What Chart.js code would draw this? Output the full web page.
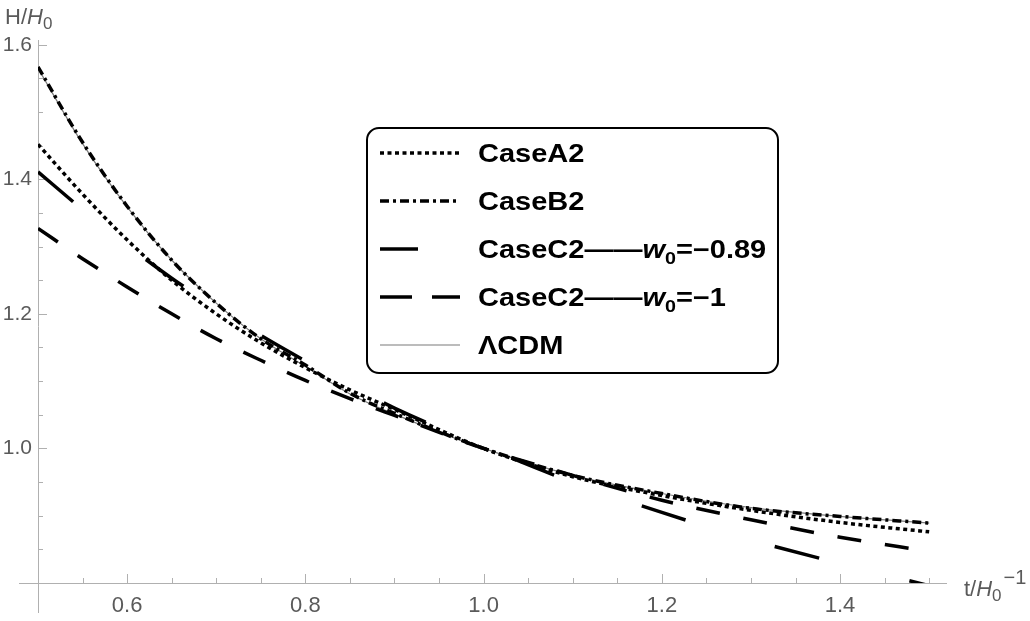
<!DOCTYPE html>
<html>
<head>
<meta charset="utf-8">
<script src="https://cdn.jsdelivr.net/npm/chart.js@4/dist/chart.umd.min.js"></script>
<style>
  body { margin: 0; background: #fff; }
  canvas { display: block; }
</style>
</head>
<body>
<canvas id="hubble-chart" width="1030" height="621"></canvas>
<script>
// t / H0^-1 sample points
const tValues = [0.5, 0.55, 0.6, 0.65, 0.7, 0.75, 0.8, 0.85, 0.9, 1.0, 1.1, 1.2, 1.3, 1.4, 1.5];

// H / H0
const caseA2  = [1.452, 1.378, 1.310, 1.250, 1.200, 1.157, 1.120, 1.087, 1.058, 1.000, 0.958, 0.930, 0.908, 0.890, 0.876];
const caseB2  = [1.567, 1.455, 1.360, 1.280, 1.216, 1.163, 1.124, 1.082, 1.052, 1.000, 0.960, 0.933, 0.911, 0.899, 0.889];
const caseC2a = [1.411, 1.355, 1.302, 1.253, 1.209, 1.168, 1.130, 1.094, 1.060, 1.003, 0.950, 0.905, 0.864, 0.829, 0.796];
const caseC2b = [1.327, 1.282, 1.240, 1.200, 1.163, 1.131, 1.101, 1.074, 1.049, 1.000, 0.960, 0.923, 0.894, 0.868, 0.847];
const lcdm    = [1.565, 1.453, 1.359, 1.280, 1.216, 1.163, 1.122, 1.081, 1.051, 1.000, 0.960, 0.933, 0.912, 0.899, 0.889];

// ticks
const xTicks = [0.5, 0.55, 0.6, 0.65, 0.7, 0.75, 0.8, 0.85, 0.9, 0.95, 1.0, 1.05, 1.1, 1.15, 1.2, 1.25, 1.3, 1.35, 1.4, 1.45, 1.5];
const xLabels = [0.6, 0.8, 1.0, 1.2, 1.4];
const yTicks = [0.8, 0.85, 0.9, 0.95, 1.0, 1.05, 1.1, 1.15, 1.2, 1.25, 1.3, 1.35, 1.4, 1.45, 1.5, 1.55, 1.6];
const yLabels = [1.0, 1.2, 1.4, 1.6];

const FONT = "'Liberation Sans', Arial, sans-serif";
const AXIS_GRAY = '#b0b0b0';
const LABEL_GRAY = '#5a5a5a';

function toPoints(ys) {
    return tValues.map((t, i) => ({ x: t, y: ys[i] }));
}

function isLabel(list, v) {
    return list.some(l => Math.abs(l - v) < 1e-6);
}

// legend text pieces: [text, style] where style is 'b', 'bi' or 'sub'
const legendEntries = [
    [['CaseA2', 'b']],
    [['CaseB2', 'b']],
    [['CaseC2\u2014\u2014', 'b'], ['w', 'bi'], ['0', 'sub'], ['=\u22120.89', 'b']],
    [['CaseC2\u2014\u2014', 'b'], ['w', 'bi'], ['0', 'sub'], ['=\u22121', 'b']],
    [['\u039BCDM', 'b']]
];

const axesPlugin = {
    id: 'axesPlugin',
    beforeDatasetsDraw(chart) {
        const ctx = chart.ctx;
        const x = chart.scales.x, y = chart.scales.y;
        const area = chart.chartArea;
        ctx.save();
        ctx.strokeStyle = AXIS_GRAY;
        ctx.lineWidth = 1;
        // axis lines, a little past the origin like the original
        ctx.beginPath();
        ctx.moveTo(area.left - 19, area.bottom + 0.5);
        ctx.lineTo(area.right, area.bottom + 0.5);
        ctx.moveTo(area.left + 0.5, area.top);
        ctx.lineTo(area.left + 0.5, area.bottom + 30);
        ctx.stroke();
        // inward ticks
        ctx.beginPath();
        xTicks.forEach(v => {
            const px = Math.round(x.getPixelForValue(v)) + 0.5;
            const len = isLabel(xLabels, v) ? 9 : 5;
            ctx.moveTo(px, area.bottom);
            ctx.lineTo(px, area.bottom - len);
        });
        yTicks.forEach(v => {
            const py = Math.round(y.getPixelForValue(v)) + 0.5;
            const len = isLabel(yLabels, v) ? 9 : 5;
            ctx.moveTo(area.left, py);
            ctx.lineTo(area.left + len, py);
        });
        ctx.stroke();
        ctx.restore();
    },
    afterDraw(chart) {
        const ctx = chart.ctx;
        const area = chart.chartArea;
        ctx.save();
        ctx.fillStyle = LABEL_GRAY;
        ctx.textBaseline = 'alphabetic';

        // y axis title: H/H0
        ctx.font = `22px ${FONT}`;
        ctx.fillText('H/', 5, 24);
        let w = ctx.measureText('H/').width;
        ctx.font = `italic 22px ${FONT}`;
        ctx.fillText('H', 5 + w, 24);
        w += ctx.measureText('H').width;
        ctx.font = `17px ${FONT}`;
        ctx.fillText('0', 5 + w, 29);

        // x axis title: t/H0^-1
        const tx = area.right + 17, ty = area.bottom + 13;
        ctx.font = `22px ${FONT}`;
        ctx.fillText('t/', tx, ty);
        w = ctx.measureText('t/').width;
        ctx.font = `italic 22px ${FONT}`;
        ctx.fillText('H', tx + w, ty);
        w += ctx.measureText('H').width;
        ctx.font = `17px ${FONT}`;
        ctx.fillText('0', tx + w, ty + 5);
        w += ctx.measureText('0').width + 2;
        ctx.font = `20px ${FONT}`;
        ctx.fillText('\u22121', tx + w, ty - 12);

        // legend box
        const bx = 367, by = 128, bw = 411, bh = 245;
        ctx.fillStyle = '#fff';
        ctx.strokeStyle = '#000';
        ctx.lineWidth = 2;
        ctx.beginPath();
        ctx.roundRect(bx, by, bw, bh, 12);
        ctx.fill();
        ctx.stroke();

        chart.data.datasets.forEach((ds, i) => {
            const rowY = by + 25 + i * 48;
            ctx.save();
            ctx.strokeStyle = ds.borderColor;
            ctx.lineWidth = ds.borderWidth;
            ctx.setLineDash(ds.legendDash || ds.borderDash || []);
            ctx.beginPath();
            ctx.moveTo(bx + 13, rowY);
            ctx.lineTo(bx + 93, rowY);
            ctx.stroke();
            ctx.restore();

            ctx.save();
            ctx.translate(bx + 111, rowY + 9);
            ctx.scale(1.16, 1);
            ctx.fillStyle = '#000';
            let cx = 0;
            legendEntries[i].forEach(([text, style]) => {
                if (style === 'sub') {
                    ctx.font = `bold 17px ${FONT}`;
                    ctx.fillText(text, cx, 6);
                } else {
                    ctx.font = (style === 'bi' ? 'italic bold ' : 'bold ') + `25px ${FONT}`;
                    ctx.fillText(text, cx, 0);
                }
                cx += ctx.measureText(text).width;
            });
            ctx.restore();
        });
        ctx.restore();
    }
};

const baseLine = {
    fill: false,
    pointRadius: 0,
    cubicInterpolationMode: 'monotone',
    borderCapStyle: 'butt'
};

new Chart(document.getElementById('hubble-chart'), {
    type: 'line',
    data: {
        datasets: [
            { ...baseLine, label: 'CaseA2', data: toPoints(caseA2), borderColor: '#000', borderWidth: 3.5, borderDash: [4, 3.5] },
            { ...baseLine, label: 'CaseB2', data: toPoints(caseB2), borderColor: '#000', borderWidth: 3.5, borderDash: [9, 4, 3, 4] },
            { ...baseLine, label: 'CaseC2 w0=-0.89', data: toPoints(caseC2a), borderColor: '#000', borderWidth: 3.5, borderDash: [46, 93], legendDash: [38, 60] },
            { ...baseLine, label: 'CaseC2 w0=-1', data: toPoints(caseC2b), borderColor: '#000', borderWidth: 3.5, borderDash: [24, 24], legendDash: [32, 20] },
            { ...baseLine, label: 'LCDM', data: toPoints(lcdm), borderColor: '#7a7a7a', borderWidth: 1.2 }
        ]
    },
    options: {
        responsive: false,
        animation: false,
        devicePixelRatio: 1,
        layout: { padding: { top: 40, right: 83, left: 0, bottom: 0 } },
        plugins: {
            legend: { display: false },
            tooltip: { enabled: false }
        },
        scales: {
            x: {
                type: 'linear',
                min: 0.5,
                max: 1.52,
                afterFit(scale) { scale.height = 38; },
                afterBuildTicks(scale) { scale.ticks = xLabels.map(v => ({ value: v })); },
                grid: { display: false, drawTicks: false },
                border: { display: false },
                ticks: {
                    padding: 10,
                    color: LABEL_GRAY,
                    font: { family: FONT, size: 22 },
                    maxRotation: 0,
                    callback: v => v.toFixed(1)
                }
            },
            y: {
                type: 'linear',
                min: 0.8,
                max: 1.607,
                afterFit(scale) { scale.width = 38; },
                afterBuildTicks(scale) { scale.ticks = yLabels.map(v => ({ value: v })); },
                grid: { display: false, drawTicks: false },
                border: { display: false },
                ticks: {
                    padding: 6,
                    color: LABEL_GRAY,
                    font: { family: FONT, size: 21 },
                    callback: v => v.toFixed(1)
                }
            }
        }
    },
    plugins: [axesPlugin]
});
</script>
</body>
</html>
